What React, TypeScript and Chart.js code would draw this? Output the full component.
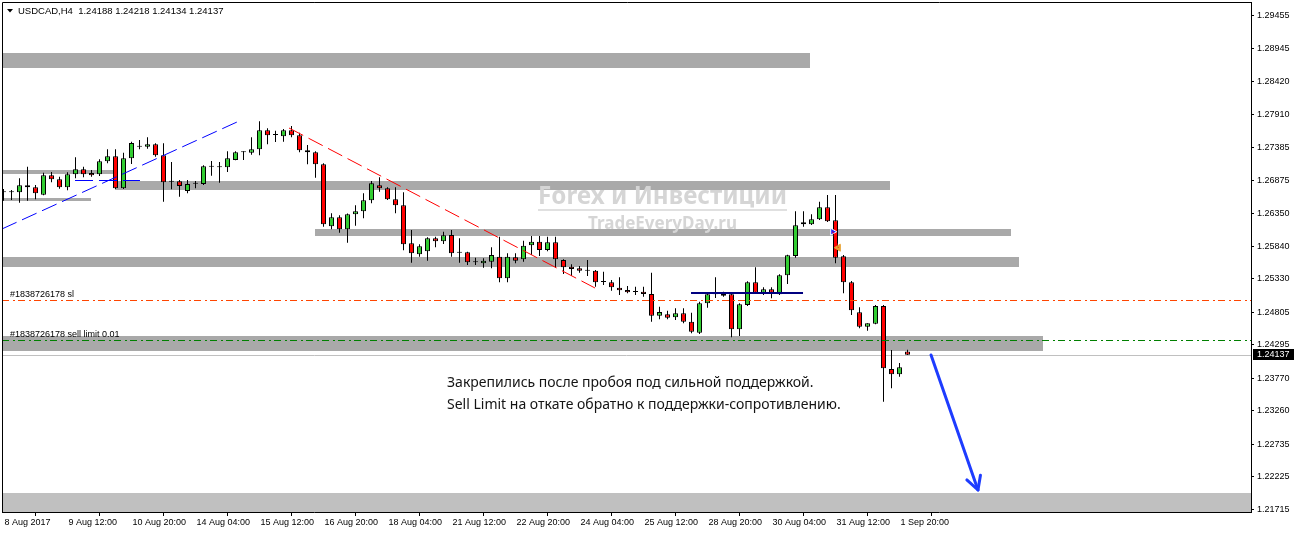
import React, { useEffect, useRef } from "react";
import { Chart, registerables } from "chart.js";

Chart.register(...registerables);

// ---- Instrument header ----
const symbolName = "USDCAD,H4";
const lastQuote = [1.24188, 1.24218, 1.24134, 1.24137]; // O H L C of the live bar

// ---- H4 candles, 8 Aug 04:00 .. 4 Sep 00:00 ----
const barOpen = [
  1.26686, 1.26686, 1.26686, 1.26796, 1.26764, 1.26648, 1.26953, 1.2689, 1.26764, 1.26968,
  1.27047, 1.26989, 1.26968, 1.27172, 1.2725, 1.26749, 1.27219, 1.27401, 1.27401, 1.27439,
  1.27266, 1.26852, 1.26858, 1.26706, 1.26821, 1.26816, 1.27087, 1.27078, 1.27078, 1.27192,
  1.27313, 1.27307, 1.2736, 1.27658, 1.27584, 1.27564, 1.27658, 1.2758, 1.27344, 1.27313,
  1.27125, 1.26153, 1.26294, 1.26106, 1.26341, 1.26388, 1.26561, 1.26796, 1.26749, 1.26576,
  1.26482, 1.25886, 1.25714, 1.25761, 1.25965, 1.25918, 1.26016, 1.25739, 1.25745, 1.25588,
  1.25573, 1.25598, 1.25676, 1.25338, 1.25667, 1.25635, 1.25855, 1.25911, 1.25781, 1.25902,
  1.25625, 1.25519, 1.25494, 1.25457, 1.25457, 1.2528, 1.25275, 1.2519, 1.25154, 1.25123,
  1.25127, 1.25091, 1.24751, 1.24773, 1.24726, 1.24789, 1.24657, 1.24485, 1.24946, 1.25087,
  1.25091, 1.25087, 1.24538, 1.24919, 1.25275, 1.25112, 1.25165, 1.25087, 1.25385, 1.25687,
  1.26184, 1.26184, 1.26263, 1.26451, 1.26247, 1.25683, 1.25275, 1.24804, 1.24579, 1.24626,
  1.24903, 1.23915, 1.23832, 1.24188,
];
const barHigh = [
  1.26738, 1.26722, 1.26905, 1.27087, 1.268, 1.26993, 1.27004, 1.26931, 1.27, 1.27235,
  1.27087, 1.27036, 1.27203, 1.2736, 1.2736, 1.27307, 1.27479, 1.27506, 1.27548, 1.27454,
  1.27454, 1.27161, 1.26879, 1.26879, 1.26863, 1.27109, 1.27177, 1.27161, 1.27329, 1.27329,
  1.27329, 1.27548, 1.27799, 1.27689, 1.27652, 1.27678, 1.27725, 1.2762, 1.27428, 1.27329,
  1.27141, 1.26357, 1.26325, 1.26354, 1.26482, 1.2667, 1.26863, 1.26921, 1.26764, 1.26764,
  1.26686, 1.26095, 1.25871, 1.2598, 1.2599, 1.26068, 1.26095, 1.25965, 1.25755, 1.25661,
  1.25651, 1.25824, 1.2599, 1.2573, 1.2573, 1.25927, 1.26001, 1.26001, 1.2599, 1.2599,
  1.25635, 1.25557, 1.2553, 1.25625, 1.25468, 1.25441, 1.25311, 1.25353, 1.25217, 1.25206,
  1.25206, 1.25425, 1.24892, 1.2483, 1.24867, 1.24867, 1.24798, 1.24971, 1.25112, 1.25353,
  1.25127, 1.25091, 1.24946, 1.25291, 1.2551, 1.25196, 1.25196, 1.254, 1.25708, 1.26388,
  1.26388, 1.26341, 1.26539, 1.26644, 1.26644, 1.25703, 1.25295, 1.24883, 1.24632, 1.24919,
  1.24919, 1.24213, 1.2401, 1.24218,
];
const barLow = [
  1.26554, 1.26565, 1.26523, 1.26554, 1.26576, 1.26639, 1.26843, 1.26742, 1.26717, 1.26905,
  1.26921, 1.26931, 1.26942, 1.27141, 1.26738, 1.26738, 1.2713, 1.2736, 1.2737, 1.27244,
  1.26539, 1.26733, 1.26617, 1.2667, 1.26749, 1.268, 1.26946, 1.26836, 1.27004, 1.27188,
  1.27192, 1.27275, 1.27266, 1.27439, 1.27475, 1.27479, 1.27548, 1.27313, 1.27125, 1.26915,
  1.26147, 1.26106, 1.26052, 1.25896, 1.26162, 1.26278, 1.26514, 1.26695, 1.26565, 1.26357,
  1.25777, 1.25582, 1.25676, 1.25614, 1.25824, 1.25875, 1.25676, 1.25582, 1.25546, 1.25546,
  1.25504, 1.25494, 1.25275, 1.25275, 1.25573, 1.25598, 1.25703, 1.25687, 1.25761, 1.25504,
  1.25405, 1.25374, 1.25425, 1.25374, 1.25206, 1.25233, 1.25143, 1.25076, 1.25102, 1.25076,
  1.25049, 1.24657, 1.24695, 1.24695, 1.24684, 1.24632, 1.24475, 1.24464, 1.24877, 1.25029,
  1.25049, 1.24413, 1.24433, 1.24903, 1.25102, 1.25076, 1.25024, 1.25076, 1.25248, 1.25661,
  1.26147, 1.26173, 1.26252, 1.2622, 1.25573, 1.25102, 1.24762, 1.24554, 1.24516, 1.24616,
  1.23403, 1.23613, 1.23795, 1.24134,
];
const barClose = [
  1.26686, 1.26686, 1.26796, 1.26764, 1.2667, 1.26953, 1.2689, 1.26764, 1.26968, 1.27047,
  1.26968, 1.26953, 1.27172, 1.2725, 1.26749, 1.27219, 1.27459, 1.27401, 1.27439, 1.27266,
  1.26843, 1.26852, 1.26785, 1.26816, 1.26821, 1.27094, 1.27087, 1.27078, 1.27219, 1.27313,
  1.27313, 1.2736, 1.27658, 1.2758, 1.27584, 1.27658, 1.2758, 1.27344, 1.27313, 1.27125,
  1.26184, 1.26294, 1.26106, 1.26341, 1.26388, 1.26561, 1.26827, 1.26749, 1.26576, 1.26482,
  1.25871, 1.2573, 1.25839, 1.25965, 1.25918, 1.26012, 1.2573, 1.25739, 1.25588, 1.25588,
  1.25614, 1.25703, 1.25338, 1.25676, 1.25614, 1.25849, 1.25911, 1.25781, 1.25902, 1.25635,
  1.2551, 1.25483, 1.25457, 1.25457, 1.25275, 1.2528, 1.25196, 1.25149, 1.25118, 1.25123,
  1.25091, 1.24751, 1.24809, 1.2472, 1.24789, 1.24657, 1.245, 1.24946, 1.25087, 1.25087,
  1.25065, 1.24538, 1.2493, 1.25275, 1.25112, 1.25165, 1.25112, 1.25385, 1.25698, 1.26169,
  1.26216, 1.26263, 1.26451, 1.26231, 1.25661, 1.25275, 1.24836, 1.24579, 1.24632, 1.24903,
  1.23926, 1.23832, 1.23942, 1.24137,
];

// ---- Time axis (bar index of each labelled bar) ----
const timeTickBars = [0, 8, 16, 24, 32, 40, 48, 56, 64, 72, 80, 88, 96, 104, 112];
const timeTickLabels = [
  "8 Aug 2017", "9 Aug 12:00", "10 Aug 20:00", "14 Aug 04:00", "15 Aug 12:00",
  "16 Aug 20:00", "18 Aug 04:00", "21 Aug 12:00", "22 Aug 20:00", "24 Aug 04:00",
  "25 Aug 12:00", "28 Aug 20:00", "30 Aug 04:00", "31 Aug 12:00", "1 Sep 20:00",
];

// ---- Price axis ----
const priceTicks = [
  1.29455, 1.28945, 1.2842, 1.2791, 1.27385, 1.26875, 1.2635, 1.2584,
  1.2533, 1.24805, 1.24295, 1.2377, 1.2326, 1.22735, 1.22225, 1.21715,
];
const priceMin = 1.21673;
const priceMax = 1.29654;
const barMin = -0.1875;
const barMax = 155.9375;

// ---- Support / resistance zones (price band, bar span) ----
const zoneHi = [1.2887, 1.27036, 1.26592, 1.26863, 1.26111, 1.25672, 1.24433, 1.21971];
const zoneLo = [1.28635, 1.26973, 1.26549, 1.26722, 1.26001, 1.25515, 1.24198, 1.21];
const zoneFrom = [-1, -1, -1, 13.94, 38.94, -1, -1, -1];
const zoneTo = [100.81, 13.94, 10.94, 110.81, 125.94, 126.94, 129.94, 160];

// ---- Drawn lines ----
const upTrendBars = [-0.19, 29.19];
const upTrendPrices = [1.26111, 1.27788];
const downTrendBars = [35.69, 73.94];
const downTrendPrices = [1.27694, 1.25185];
const earlyLevelBars = [8.94, 17.06];
const earlyLevelPrice = 1.26874;
const rangeLevelBars = [85.94, 99.94];
const rangeLevelPrice = 1.25112;
const stopLossPrice = 1.25;
const sellLimitPrice = 1.24365;
const orderTicket = "#1838726178";
const entryMarkBars = [103.65, 104.35];
const entryMarkPrices = [1.26068, 1.25817];
const arrowBars = [115.94, 121.81];
const arrowPrices = [1.24135, 1.22018];

// ---- Comment text ----
const noteLines = [
  "Закрепились после пробоя под сильной поддержкой.",
  "Sell Limit на откате обратно к поддержки-сопротивлению.",
];
const noteBar = 55.44;
const notePrice = 1.23633;
const brandTitle = "Forex и Инвестиции";
const brandSite = "TradeEveryDay.ru";

const UI_FONT = '"Liberation Sans", Arial, sans-serif';
const DASH_DOT = [7, 4, 2, 3];

// Horizontal level snapped to the pixel grid so 1px strokes stay crisp.
function drawLevel(
  chart: any,
  price: number,
  fromBar: number,
  toBar: number,
  color: string,
  width: number,
  dash: number[]
) {
  const { ctx, chartArea: a } = chart;
  const xs = chart.scales.x;
  const ys = chart.scales.y;
  const y = Math.round(ys.getPixelForValue(price)) + (width % 2 ? 0.5 : 0);
  const x0 = Math.max(a.left, xs.getPixelForValue(fromBar));
  const x1 = Math.min(a.right, xs.getPixelForValue(toBar));
  ctx.save();
  ctx.strokeStyle = color;
  ctx.lineWidth = width;
  ctx.setLineDash(dash);
  ctx.beginPath();
  ctx.moveTo(x0, y);
  ctx.lineTo(x1, y);
  ctx.stroke();
  ctx.restore();
}

const drawings = {
  id: "drawings",
  beforeDatasetsDraw(chart: any) {
    const { ctx, chartArea: a } = chart;
    const xs = chart.scales.x;
    const ys = chart.scales.y;
    ctx.save();
    ctx.beginPath();
    ctx.rect(a.left, a.top, a.right - a.left, a.bottom - a.top);
    ctx.clip();
    zoneHi.forEach((hi: number, i: number) => {
      const x0 = Math.round(Math.max(a.left, xs.getPixelForValue(zoneFrom[i])));
      const x1 = Math.round(Math.min(a.right, xs.getPixelForValue(zoneTo[i])));
      const y0 = Math.round(ys.getPixelForValue(hi));
      const y1 = Math.round(Math.min(a.bottom, ys.getPixelForValue(zoneLo[i])));
      ctx.fillStyle = i === zoneHi.length - 1 ? "#C0C0C0" : "#A9A9A9";
      ctx.fillRect(x0, y0, x1 - x0, y1 - y0);
    });
    // brand watermark
    ctx.fillStyle = "#D5D5D5";
    ctx.textBaseline = "alphabetic";
    ctx.textAlign = "left";
    ctx.font = 'bold 25px "Noto Sans", sans-serif';
    ctx.fillText(brandTitle, 538, 204, 249);
    ctx.fillStyle = "#E0E0E0";
    ctx.fillRect(538, 209, 249, 2);
    ctx.fillStyle = "#D5D5D5";
    ctx.font = 'bold 18px "Noto Sans", sans-serif';
    ctx.fillText(brandSite, 588, 229, 149);
    ctx.restore();

    // live price line sits under the candles
    drawLevel(chart, lastQuote[3], barMin, barMax, "#C0C0C0", 1, []);
  },
  afterDatasetsDraw(chart: any) {
    const { ctx, chartArea: a } = chart;
    const xs = chart.scales.x;
    const ys = chart.scales.y;

    drawLevel(chart, earlyLevelPrice, earlyLevelBars[0], earlyLevelBars[1], "#0000FF", 1, [18, 6]);
    drawLevel(chart, rangeLevelPrice, rangeLevelBars[0], rangeLevelBars[1], "#000080", 2, []);
    drawLevel(chart, stopLossPrice, barMin, barMax, "#FF4500", 1, DASH_DOT);
    drawLevel(chart, sellLimitPrice, barMin, barMax, "#008000", 1, DASH_DOT);

    ctx.save();
    ctx.beginPath();
    ctx.rect(a.left, a.top, a.right - a.left, a.bottom - a.top);
    ctx.clip();

    // order labels above their levels
    ctx.fillStyle = "#000";
    ctx.font = `9px ${UI_FONT}`;
    ctx.textBaseline = "alphabetic";
    ctx.fillText(`${orderTicket} sl`, a.left + 8, Math.round(ys.getPixelForValue(stopLossPrice)) - 3);
    ctx.fillText(
      `${orderTicket} sell limit 0.01`,
      a.left + 8,
      Math.round(ys.getPixelForValue(sellLimitPrice)) - 3
    );

    // comment
    ctx.fillStyle = "#141414";
    ctx.font = '14px "Noto Sans", sans-serif';
    const tx = xs.getPixelForValue(noteBar);
    const ty = ys.getPixelForValue(notePrice);
    ctx.fillText(noteLines[0], tx, ty, 368);
    ctx.fillText(noteLines[1], tx, ty + 22, 396);

    // target arrow
    const ax0 = xs.getPixelForValue(arrowBars[0]);
    const ay0 = ys.getPixelForValue(arrowPrices[0]);
    const ax1 = xs.getPixelForValue(arrowBars[1]);
    const ay1 = ys.getPixelForValue(arrowPrices[1]);
    ctx.strokeStyle = "#1E3CFF";
    ctx.lineWidth = 3;
    ctx.lineCap = "round";
    ctx.lineJoin = "round";
    ctx.beginPath();
    ctx.moveTo(ax0, ay0);
    ctx.lineTo(ax1, ay1);
    ctx.stroke();
    const ang = Math.atan2(ay1 - ay0, ax1 - ax0);
    const head = 15;
    ctx.beginPath();
    ctx.moveTo(ax1 - head * Math.cos(ang - 0.5), ay1 - head * Math.sin(ang - 0.5));
    ctx.lineTo(ax1, ay1);
    ctx.lineTo(ax1 - head * Math.cos(ang + 0.5), ay1 - head * Math.sin(ang + 0.5));
    ctx.stroke();
    ctx.restore();
  },
  afterDraw(chart: any) {
    const { ctx, chartArea: a } = chart;
    const ys = chart.scales.y;
    ctx.save();
    ctx.strokeStyle = "#000";
    ctx.lineWidth = 1;
    ctx.beginPath();
    ctx.moveTo(a.left + 0.5, a.bottom);
    ctx.lineTo(a.left + 0.5, a.top - 0.5);
    ctx.lineTo(a.right + 1, a.top - 0.5);
    ctx.stroke();

    // header
    ctx.fillStyle = "#000";
    ctx.beginPath();
    ctx.moveTo(7, 9);
    ctx.lineTo(13, 9);
    ctx.lineTo(10, 12.5);
    ctx.closePath();
    ctx.fill();
    ctx.font = `9.5px ${UI_FONT}`;
    ctx.textBaseline = "alphabetic";
    ctx.fillText(`${symbolName}  ${lastQuote.map((v) => v.toFixed(5)).join(" ")}`, 18, 14);

    // live price tag
    const py = Math.round(ys.getPixelForValue(lastQuote[3]));
    ctx.fillStyle = "#000";
    ctx.fillRect(a.right + 2, py - 6, 43, 11);
    ctx.fillStyle = "#fff";
    ctx.font = `9px ${UI_FONT}`;
    ctx.textBaseline = "middle";
    ctx.fillText(lastQuote[3].toFixed(5), a.right + 6, py);
    ctx.restore();
  },
};

export default function App() {
  const ref = useRef<HTMLCanvasElement>(null);

  useEffect(() => {
    document.body.style.margin = "0";
    const bodies = barOpen.map((o, i) => ({ x: i, y: [o, barClose[i]] }));
    const wicks = barOpen.map((_, i) => ({ x: i, y: [barLow[i], barHigh[i]] }));
    const bodyColors = barOpen.map((o, i) =>
      barClose[i] > o ? "#32CD32" : barClose[i] < o ? "#FF0000" : "#000000"
    );
    const lineBase = { type: "line", pointRadius: 0, borderWidth: 1, fill: false, tension: 0, order: 0 };

    const chart = new Chart(ref.current as HTMLCanvasElement, {
      type: "bar",
      data: {
        datasets: [
          {
            ...lineBase,
            data: upTrendBars.map((b, i) => ({ x: b, y: upTrendPrices[i] })),
            borderColor: "#0000FF",
            borderDash: [16, 6],
          },
          {
            ...lineBase,
            data: downTrendBars.map((b, i) => ({ x: b, y: downTrendPrices[i] })),
            borderColor: "#FF0000",
            borderDash: [16, 6],
          },
          {
            ...lineBase,
            data: entryMarkBars.map((b, i) => ({ x: b, y: entryMarkPrices[i] })),
            borderColor: "#FF0000",
            borderDash: [2, 2],
          },
          {
            ...lineBase,
            showLine: false,
            data: entryMarkBars.map((b, i) => ({ x: b, y: entryMarkPrices[i] })),
            pointRadius: 4,
            pointStyle: "triangle",
            rotation: [90, -90],
            pointBackgroundColor: ["#1E1EFF", "#E8A030"],
            pointBorderColor: ["#FFFFFF", "#E8A030"],
            pointBorderWidth: 1,
          },
          {
            type: "bar",
            data: bodies,
            backgroundColor: bodyColors,
            borderColor: "#000000",
            borderWidth: 1,
            borderSkipped: false,
            barThickness: 5,
            minBarLength: 1,
            inflateAmount: 0,
            grouped: false,
            order: 1,
          },
          {
            type: "bar",
            data: wicks,
            backgroundColor: "#000000",
            borderWidth: 0,
            barThickness: 1,
            inflateAmount: 0,
            grouped: false,
            order: 2,
          },
        ] as any,
      },
      options: {
        responsive: false,
        animation: false,
        events: [],
        layout: { autoPadding: false, padding: { left: 2, top: 3, right: 0, bottom: 0 } },
        plugins: { legend: { display: false }, tooltip: { enabled: false } },
        scales: {
          x: {
            type: "linear",
            position: "bottom",
            min: barMin,
            max: barMax,
            offset: false,
            afterBuildTicks: (s: any) => {
              s.ticks = timeTickBars.map((v) => ({ value: v }));
            },
            afterFit: (s: any) => {
              s.height = 21;
              s.paddingLeft = 0;
              s.paddingRight = 0;
              s.paddingTop = 0;
              s.paddingBottom = 0;
            },
            ticks: {
              autoSkip: false,
              maxRotation: 0,
              minRotation: 0,
              align: "start",
              labelOffset: 1,
              padding: 1,
              color: "#000",
              font: { family: UI_FONT, size: 9 },
              callback: (_v: any, i: number) => timeTickLabels[i],
            },
            grid: { drawOnChartArea: false, drawTicks: true, tickLength: 4, color: "#000" },
            border: { display: true, color: "#000", width: 1 },
          },
          y: {
            type: "linear",
            position: "right",
            min: priceMin,
            max: priceMax,
            afterBuildTicks: (s: any) => {
              s.ticks = priceTicks.map((v) => ({ value: v }));
            },
            afterFit: (s: any) => {
              s.width = 43;
              s.paddingLeft = 0;
              s.paddingRight = 0;
              s.paddingTop = 0;
              s.paddingBottom = 0;
            },
            ticks: {
              autoSkip: false,
              padding: 3,
              color: "#000",
              font: { family: UI_FONT, size: 9 },
              callback: (v: any) => Number(v).toFixed(5),
            },
            grid: { drawOnChartArea: false, drawTicks: true, tickLength: 3, color: "#000" },
            border: { display: true, color: "#000", width: 1 },
          },
        },
      } as any,
      plugins: [drawings],
    });
    return () => chart.destroy();
  }, []);

  return (
    <div style={{ width: 1294, height: 533, background: "#fff" }}>
      <canvas ref={ref} width={1294} height={533} style={{ display: "block" }} />
    </div>
  );
}
